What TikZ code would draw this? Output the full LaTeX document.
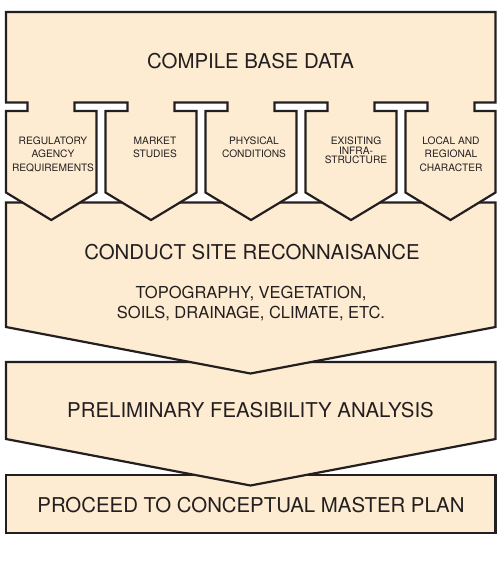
\documentclass[tikz,border=0pt]{standalone}
\usepackage{fontspec}
\setmainfont{TeX Gyre Heros}
\definecolor{beige}{RGB}{253,236,209}
\definecolor{ink}{RGB}{35,31,32}
\begin{document}
\begin{tikzpicture}[x=1pt,y=-1pt,
  panel/.style={fill=beige,draw=ink,line width=2.2pt,line join=miter},
  bigtext/.style={text=ink,inner sep=0pt,font=\fontsize{20.4}{24}\selectfont},
  subtext/.style={text=ink,inner sep=0pt,align=center,font=\fontsize{16.5}{20}\selectfont},
  coltext/.style={text=ink,inner sep=0pt,align=center,font=\fontsize{10.2}{13.4}\selectfont}]
\useasboundingbox (0,0) rectangle (500,568);
\fill[white] (0,0) rectangle (500,568);
% bottom box
\draw[panel] (6,475) rectangle (495.5,533);
% third box (pentagon)
\draw[panel] (6,362) -- (495.5,362) -- (495.5,439) -- (250.5,485.5) -- (6,439) -- cycle;
% second box (pentagon)
\draw[panel] (6,202.5) -- (495.5,202.5) -- (495.5,327) -- (250.5,373.5) -- (6,327) -- cycle;
% top box with five columns
\draw[panel] (6,12) -- (495.5,12) -- (495.5,102.5) -- (474.5,102.5) -- (474.5,111) -- (495.5,111)
  -- (495.5,192.5) -- (450.5,220) -- (405.5,192.5) -- (405.5,111) -- (427.5,111) -- (427.5,102.5)
  -- (374.5,102.5) -- (374.5,111) -- (396.5,111)
  -- (396.5,192.5) -- (351,220) -- (305.5,192.5) -- (305.5,111) -- (327.5,111) -- (327.5,102.5)
  -- (274.5,102.5) -- (274.5,111) -- (296.5,111)
  -- (296.5,192.5) -- (251,220) -- (205.5,192.5) -- (205.5,111) -- (227.5,111) -- (227.5,102.5)
  -- (174.5,102.5) -- (174.5,111) -- (196.5,111)
  -- (196.5,192.5) -- (151,220) -- (105.5,192.5) -- (105.5,111) -- (127.5,111) -- (127.5,102.5)
  -- (74.5,102.5) -- (74.5,111) -- (96.5,111)
  -- (96.5,192.5) -- (51.25,220) -- (6,192.5) -- (6,111) -- (27.5,111) -- (27.5,102.5)
  -- (6,102.5) -- cycle;
% texts
\node[bigtext,anchor=base] (compile) at (250.5,68.2) {COMPILE BASE DATA};
\node[coltext] (reg) at (53,154.2) {REGULATORY\\AGENCY\\REQUIREMENTS};
\node[coltext] (mkt) at (155,147.5) {MARKET\\STUDIES};
\node[coltext] (phys) at (254,147.5) {PHYSICAL\\CONDITIONS};
\node[coltext,font=\fontsize{10.2}{9.8}\selectfont] (infra) at (356,150.3) {EXISITING\\INFRA-\\STRUCTURE};
\node[coltext] (local) at (451,154.2) {LOCAL AND\\REGIONAL\\CHARACTER};
\node[bigtext,anchor=base] (recon) at (252,259) {CONDUCT SITE RECONNAISANCE};
\node[subtext] (topo) at (251,303.5) {TOPOGRAPHY, VEGETATION,\\SOILS, DRAINAGE, CLIMATE, ETC.};
\node[bigtext,anchor=base] (prelim) at (250.5,417.3) {PRELIMINARY FEASIBILITY ANALYSIS};
\node[bigtext,anchor=base] (proceed) at (251,512.3) {PROCEED TO CONCEPTUAL MASTER PLAN};
\end{tikzpicture}
\end{document}
